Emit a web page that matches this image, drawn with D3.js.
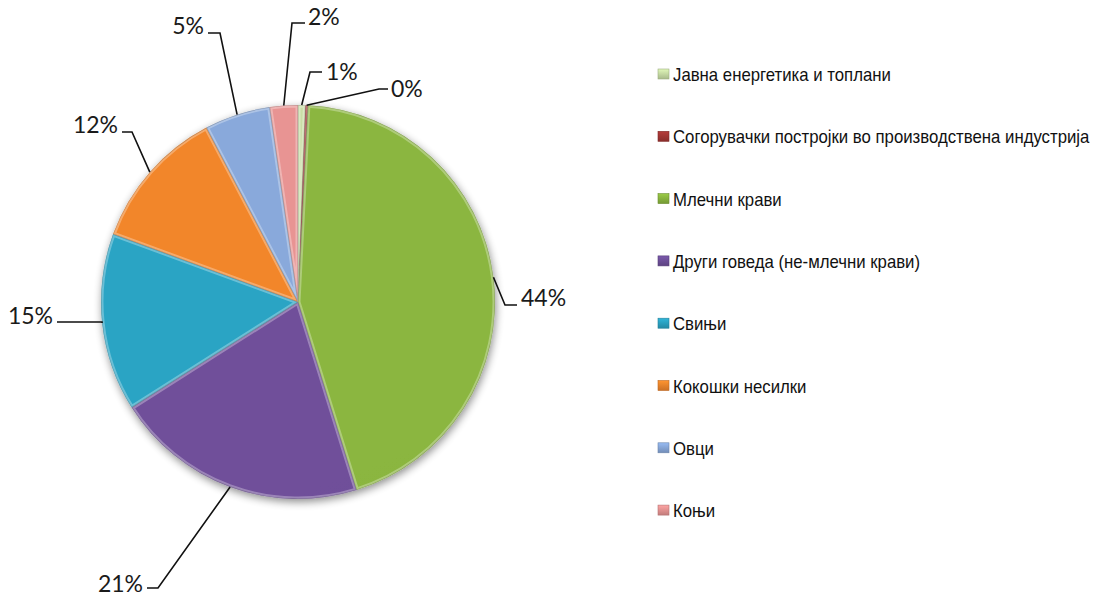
<!DOCTYPE html>
<html>
<head>
<meta charset="utf-8">
<script src="https://d3js.org/d3.v7.min.js"></script>
<style>
  body { margin: 0; background: #fff; }
  .lbl { font-family: Lato, "Open Sans", sans-serif; font-size: 23px; fill: #1a1a1a; }
  .leg { font-family: "Liberation Sans", Arial, sans-serif; font-size: 18px; fill: #111; }
</style>
</head>
<body>
<svg id="chart" width="1096" height="596"></svg>
<script>
// data (percent)
var categories = [
  "Јавна енергетика и топлани",
  "Согорувачки постројки во производствена индустрија",
  "Млечни крави",
  "Други говеда (не-млечни крави)",
  "Свињи",
  "Кокошки несилки",
  "Овци",
  "Коњи"
];
var values = [0.6, 0.2, 44.4, 20.8, 14.6, 11.7, 5.4, 2.3];

// styles
var colors = ["#c2d6a0", "#9e3432", "#86b03d", "#6b4d95", "#2a9ebd", "#ea812a", "#84a3d3", "#e08f8e"];

// label leader layout: elbow, end of leader, text position
var labelLayout = [
  { elbow: [310, 72],  end: [322, 72],  tx: 326, ty: 80,  anchor: "start" },
  { elbow: [379, 89],  end: [388, 89],  tx: 391, ty: 97,  anchor: "start" },
  { elbow: [505, 305], end: [517, 305], tx: 521, ty: 306, anchor: "start" },
  { elbow: [158, 588], end: [147, 588], tx: 143, ty: 592, anchor: "end" },
  { elbow: [102, 322], end: [57, 322],  tx: 53,  ty: 324, anchor: "end" },
  { elbow: [132, 132], end: [122, 132], tx: 118, ty: 133, anchor: "end" },
  { elbow: [220, 33],  end: [208, 33],  tx: 204, ty: 34,  anchor: "end" },
  { elbow: [292, 23],  end: [305, 23],  tx: 308, ty: 25,  anchor: "start" }
];

var cx = 298, cy = 302, r = 197;
var svg = d3.select("#chart");
var defs = svg.append("defs");

var data = categories.map(function(c, i) { return { name: c, v: values[i], color: colors[i] }; });
var total = d3.sum(values);

// shadow under the pie
var sh = defs.append("filter").attr("id", "shadow").attr("x", "-20%").attr("y", "-20%").attr("width", "140%").attr("height", "140%");
sh.append("feGaussianBlur").attr("in", "SourceAlpha").attr("stdDeviation", 4);
sh.append("feOffset").attr("dx", 1).attr("dy", 3).attr("result", "b");
sh.append("feComponentTransfer").append("feFuncA").attr("type", "linear").attr("slope", 0.45);
var merge = sh.append("feMerge");
merge.append("feMergeNode");
merge.append("feMergeNode").attr("in", "SourceGraphic");

data.forEach(function(d, i) {
  var g = defs.append("linearGradient").attr("id", "grad" + i)
    .attr("gradientUnits", "userSpaceOnUse")
    .attr("x1", cx - r * 0.4).attr("y1", cy - r).attr("x2", cx + r * 0.4).attr("y2", cy + r);
  g.append("stop").attr("offset", "0%").attr("stop-color", d3.color(d.color).brighter(0.1));
  g.append("stop").attr("offset", "50%").attr("stop-color", d.color);
  g.append("stop").attr("offset", "100%").attr("stop-color", d3.color(d.color).darker(0.5));
  var lg = defs.append("linearGradient").attr("id", "lgrad" + i).attr("x1", 0).attr("y1", 0).attr("x2", 0).attr("y2", 1);
  lg.append("stop").attr("offset", "0%").attr("stop-color", d3.color(d.color).brighter(0.4));
  lg.append("stop").attr("offset", "100%").attr("stop-color", d3.color(d.color).darker(0.4));
});

var pie = d3.pie().sort(null).value(function(d) { return d.v; });
var arcs = pie(data);
var arc = d3.arc().innerRadius(0).outerRadius(r);
var rim = d3.arc().innerRadius(r).outerRadius(r);

var pg = svg.append("g").attr("transform", "translate(" + cx + "," + cy + ")");
var slices = pg.append("g").attr("filter", "url(#shadow)");

arcs.forEach(function(a, i) {
  defs.append("clipPath").attr("id", "clip" + i).append("path").attr("d", arc(a));
});

slices.selectAll("path.slice").data(arcs).join("path")
  .attr("class", "slice")
  .attr("d", arc)
  .attr("fill", function(d, i) { return "url(#grad" + i + ")"; });

// bevel highlight / edge
pg.selectAll("path.bevel").data(arcs).join("path")
  .attr("class", "bevel")
  .attr("d", arc)
  .attr("fill", "none")
  .attr("stroke", "rgba(255,255,255,0.3)")
  .attr("stroke-width", 5)
  .attr("clip-path", function(d, i) { return "url(#clip" + i + ")"; });
pg.selectAll("path.edge").data(arcs).join("path")
  .attr("class", "edge")
  .attr("d", arc)
  .attr("fill", "none")
  .attr("stroke", "rgba(0,0,0,0.2)")
  .attr("stroke-width", 1.2)
  .attr("clip-path", function(d, i) { return "url(#clip" + i + ")"; });

// leader lines and labels
var fmt = d3.format(".0%");
arcs.forEach(function(a, i) {
  var p = rim.centroid(a);
  var L = labelLayout[i];
  var pts = [[p[0] + cx, p[1] + cy], L.elbow, L.end];
  svg.append("path")
    .attr("d", d3.line()(pts))
    .attr("fill", "none").attr("stroke", "#111").attr("stroke-width", 1.6);
  svg.append("text").attr("class", "lbl")
    .attr("x", L.tx).attr("y", L.ty)
    .attr("text-anchor", L.anchor)
    .text(fmt(a.data.v / total));
});

// legend
var legX = 658, legY0 = 75, legStep = 62.3;
var leg = svg.append("g");
var items = leg.selectAll("g").data(data).join("g")
  .attr("transform", function(d, i) { return "translate(" + legX + "," + (legY0 + i * legStep) + ")"; });
items.append("rect")
  .attr("x", 0).attr("y", -6).attr("width", 11).attr("height", 10)
  .attr("fill", function(d, i) { return "url(#lgrad" + i + ")"; })
  .attr("stroke", function(d) { return d3.color(d.color).darker(0.6); })
  .attr("stroke-width", 0.6);
var texts = items.append("text").attr("class", "leg")
  .attr("x", 0).attr("y", 6)
  .text(function(d) { return d.name; });
var maxW = d3.max(texts.nodes(), function(n) { return n.getComputedTextLength(); });
var sx = 417 / maxW;
texts.attr("transform", "translate(15,0) scale(" + sx + ",1)");
</script>
</body>
</html>
